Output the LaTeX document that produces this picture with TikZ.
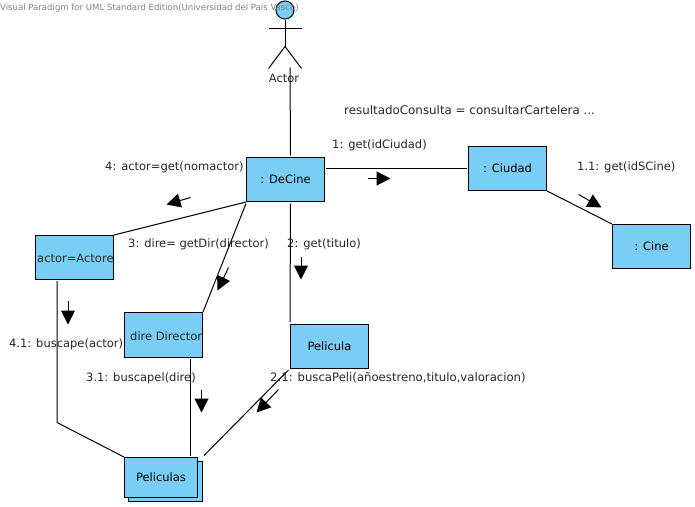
\documentclass[tikz,border=0pt]{standalone}
\usepackage{fontspec}
\setmainfont{DejaVu Sans}
\usetikzlibrary{arrows.meta,calc}
\definecolor{objblue}{RGB}{122,206,245}
\tikzset{
  objbox/.style={draw=black,fill=objblue,line width=1pt,minimum width=78pt,minimum height=44pt,inner sep=0pt,text height=10pt,text depth=1.4pt,font=\fontsize{11.5pt}{13pt}\selectfont,anchor=north west},
  lab/.style={inner sep=0pt,anchor=west,text height=10pt,text depth=1.4pt,font=\fontsize{11.5pt}{13pt}\selectfont,text=black!85},
  link/.style={draw=black,line width=1pt},
  msg/.style={draw=black,line width=1pt,-{Triangle[length=14pt,width=14pt]}},
  stick/.style={draw=black,line width=1pt}
}
\begin{document}
\begin{tikzpicture}[x=1pt,y=-1pt]
\useasboundingbox (0,0) rectangle (695,506);
\begin{scope}[shift={(-0.5,-0.5)}]
% actor figure
\node[circle,draw=black,fill=objblue,line width=1pt,minimum size=18pt,inner sep=0pt] (head) at (285.5,10.5) {};
\coordinate (hip) at (285.5,47);
\coordinate (armL) at (269,29);
\coordinate (armR) at (302,29);
\coordinate (legL) at (269,69);
\coordinate (legR) at (302,69);
\draw[stick] (head.south) -- (hip);
\draw[stick] (armL) -- (armR);
\draw[stick] (legL) -- (hip) -- (legR);
\node[lab,anchor=center] (actorlab) at (284.5,78.5) {Actor};
% watermark
\node[inner sep=0pt,anchor=west,font=\fontsize{8.55pt}{10pt}\selectfont,text=black!50] (wm) at (0.5,8.5) {Visual Paradigm for UML Standard Edition(Universidad del Pais Vasco)};
% objects
\node[objbox] (decine) at (246.5,157.5) {: DeCine};
\node[objbox] (ciudad) at (468.5,146.5) {: Ciudad};
\node[objbox] (cine) at (612.5,224.5) {: Cine};
\node[objbox] (actorobj) at (35.5,235.5) {};
\node[lab,anchor=west] (actortxt) at (37.5,259) {actor=Actore};
\node[objbox,minimum height=45pt] (director) at (124.5,312.5) {};
\node[lab,anchor=west] (dirtxt) at (130.5,336.5) {dire Director};
\node[objbox] (pelicula) at (290.5,324.5) {Pelicula};
\node[objbox,minimum width=74pt,minimum height=40pt] (pelisback) at (128.5,461.5) {};
\node[objbox,minimum width=73pt,minimum height=40pt] (pelis) at (124.5,457.5) {Peliculas};
% connectors
\coordinate (actorfoot) at (290.5,68);
\coordinate (bend) at (57.5,423);
\draw[link] (actorfoot) -- ([xshift=5pt,yshift=1.5pt]decine.north);
\draw[link] ([yshift=11pt,xshift=1pt]decine.east) -- ([xshift=-1pt]ciudad.west);
\draw[link] (ciudad.south east) -- (cine.north west);
\draw[link] (decine.south west) -- (actorobj.north east);
\draw[link] ([yshift=-1.5pt]decine.south west) -- (director.north east);
\draw[link] ([xshift=5pt,yshift=-1.5pt]decine.south) -- ([yshift=2pt]pelicula.north west);
\draw[link] ([xshift=22pt,yshift=-1pt]actorobj.south west) -- (bend) -- (pelis.north west);
\draw[link] ([xshift=66pt,yshift=-1pt]director.south west) -- ([xshift=66pt,yshift=1pt]pelis.north west);
\draw[link] ([xshift=-1.5pt,yshift=-1pt]pelicula.south west) -- ([xshift=6pt,yshift=1.5pt]pelis.north east);
% message arrows
\coordinate (m1a) at (368,179); \coordinate (m1b) at (391,179);
\coordinate (m11a) at (579,195); \coordinate (m11b) at (602,208);
\coordinate (m4a) at (191,198); \coordinate (m4b) at (167,205);
\coordinate (m3a) at (229,268); \coordinate (m3b) at (218,291);
\coordinate (m2a) at (301.5,257); \coordinate (m2b) at (301.5,280);
\coordinate (m41a) at (68.5,301); \coordinate (m41b) at (68.5,325);
\coordinate (m31a) at (202,390); \coordinate (m31b) at (202,413);
\coordinate (m21a) at (279,390); \coordinate (m21b) at (257,413);
\draw[msg] (m1a) -- (m1b);
\draw[msg] (m11a) -- (m11b);
\draw[msg] (m4a) -- (m4b);
\draw[msg] (m3a) -- (m3b);
\draw[msg] (m2a) -- (m2b);
\draw[msg] (m41a) -- (m41b);
\draw[msg] (m31a) -- (m31b);
\draw[msg] (m21a) -- (m21b);
% labels
\node[lab,font=\fontsize{11.88pt}{13pt}\selectfont] (l0) at (344.5,111) {resultadoConsulta = consultarCartelera ...};
\node[lab] (l1) at (332.5,144.5) {1: get(idCiudad)};
\node[lab] (l11) at (577.5,166.5) {1.1: get(idSCine)};
\node[lab] (l4) at (105.5,167) {4: actor=get(nomactor)};
\node[lab] (l3) at (128.5,244) {3: dire= getDir(director)};
\node[lab] (l2) at (287.5,244) {2: get(titulo)};
\node[lab] (l41) at (9.5,344) {4.1: buscape(actor)};
\node[lab] (l31) at (86.5,378) {3.1: buscapel(dire)};
\node[lab,font=\fontsize{11.68pt}{13pt}\selectfont] (l21) at (270.5,378) {2.1: buscaPeli(añoestreno,titulo,valoracion)};
\end{scope}
\end{tikzpicture}
\end{document}
